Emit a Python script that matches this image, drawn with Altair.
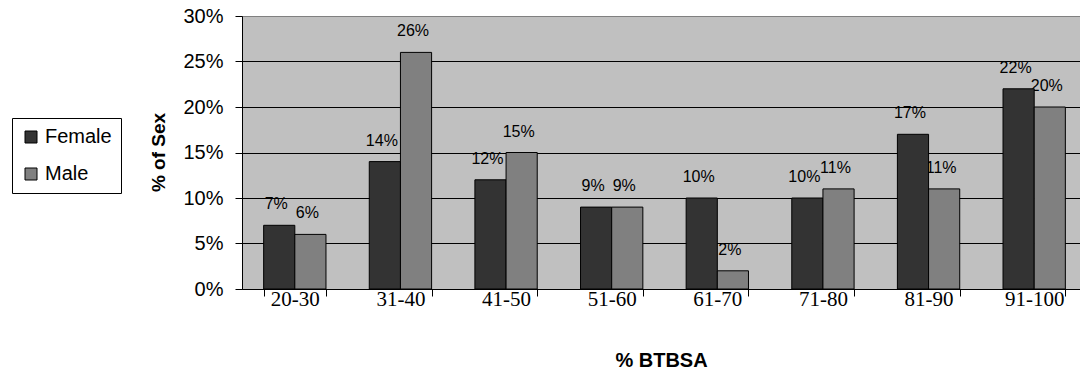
import altair as alt
import pandas as pd

# Share of each sex by % BTBSA band
categories = ["20-30", "31-40", "41-50", "51-60", "61-70", "71-80", "81-90", "91-100"]
female_pct = [7, 14, 12, 9, 10, 10, 17, 22]
male_pct = [6, 26, 15, 9, 2, 11, 11, 20]
sexes = ["Female", "Male"]
sex_colors = ["#333333", "#808080"]

rows = []
for cat, f, m in zip(categories, female_pct, male_pct):
    rows.append({"band": cat, "sex": "Female", "value": f / 100, "label": f"{f}%"})
    rows.append({"band": cat, "sex": "Male", "value": m / 100, "label": f"{m}%"})
df = pd.DataFrame(rows)

x_enc = alt.X(
    "band:N",
    sort=categories,
    scale=alt.Scale(range=[0, 845], paddingInner=0.41, paddingOuter=0.205),
    axis=alt.Axis(
        title="% BTBSA",
        titleFont="Liberation Sans",
        titleFontSize=20,
        titleFontWeight="bold",
        titleColor="black",
        titleX=419,
        titleY=71,
        titleBaseline="middle",
        titleAnchor="middle",
        labelAngle=0,
        labelFont="Liberation Serif",
        labelFontSize=21,
        labelColor="black",
        labelBaseline="middle",
        labelPadding=3,
        tickBand="extent",
        tickSize=7,
        tickColor="black",
        domainColor="black",
        grid=False,
    ),
)
xoff_enc = alt.XOffset("sex:N", sort=sexes, scale=alt.Scale(paddingInner=0, paddingOuter=0))
y_enc = alt.Y(
    "value:Q",
    scale=alt.Scale(domain=[0, 0.3], nice=False),
    axis=alt.Axis(
        title="% of Sex",
        titleFont="Liberation Sans",
        titleFontSize=19,
        titleFontWeight="bold",
        titleColor="black",
        titleAngle=-90,
        titleX=-84,
        titleY=136,
        titleAlign="center",
        titleBaseline="middle",
        values=[0, 0.05, 0.1, 0.15, 0.2, 0.25, 0.3],
        format=".0%",
        labelFont="Liberation Sans",
        labelFontSize=20,
        labelColor="black",
        labelPadding=12,
        tickSize=7,
        tickColor="black",
        domainColor="black",
        grid=True,
        gridColor={"condition": {"test": "datum.value >= 0.3", "value": "#808080"}, "value": "black"},
        gridOpacity=1,
        gridWidth=1,
    ),
)

labels = alt.Chart(df).mark_text(
    font="Liberation Sans", fontSize=16, color="black", baseline="middle", align="center", dy=-21, dx=-3
).encode(x=x_enc, xOffset=xoff_enc, y=y_enc, text="label:N")

bars = alt.Chart(df).mark_bar(stroke="black", strokeWidth=1).encode(
    x=x_enc,
    xOffset=xoff_enc,
    y=y_enc,
    color=alt.Color(
        "sex:N",
        sort=sexes,
        scale=alt.Scale(domain=sexes, range=sex_colors),
        legend=alt.Legend(
            orient="none",
            legendX=-230,
            legendY=102,
            title=None,
            strokeColor="black",
            fillColor="white",
            padding=9,
            symbolType="square",
            symbolSize=144,
            symbolStrokeColor="black",
            symbolStrokeWidth=1,
            symbolOpacity=1,
            labelFont="Liberation Sans",
            labelFontSize=20,
            labelColor="black",
            labelOffset=4,
            rowPadding=17,
        ),
    ),
)

chart = (
    alt.layer(labels, bars)
    .properties(
        width=838,
        height=273,
        autosize=alt.AutoSizeParams(type="none"),
        padding={"left": 242, "top": 16, "right": 0, "bottom": 87},
        background="white",
    )
    .configure_view(fill="#c0c0c0", stroke="#808080", strokeWidth=1)
)

chart.save("out.html", embed_options={"renderer": "svg", "actions": False})
